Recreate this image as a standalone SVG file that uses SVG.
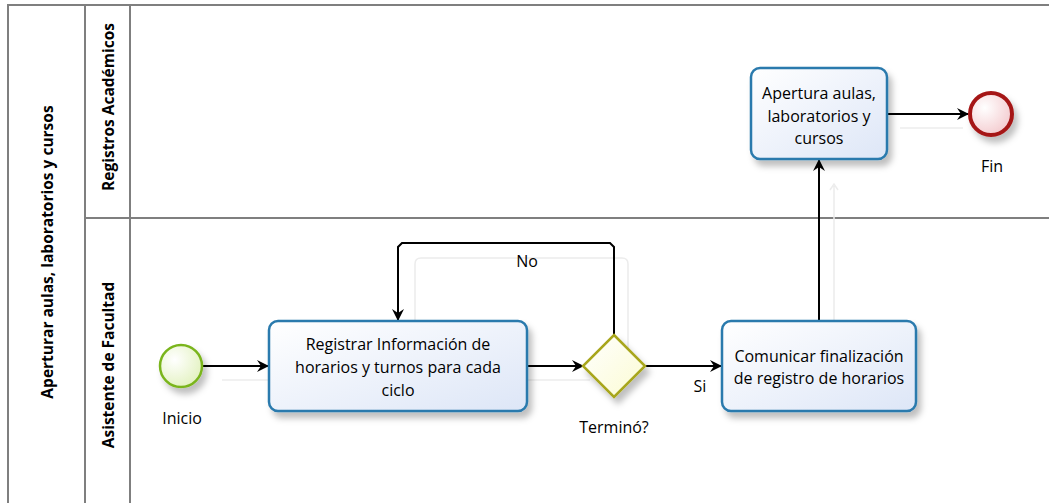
<svg xmlns="http://www.w3.org/2000/svg" width="1049" height="503" viewBox="0 0 1049 503">
<style>
.pool{stroke:#7f7f7f;stroke-width:2;fill:none}
.lbl{font-family:"Open Sans","DejaVu Sans",sans-serif;font-size:16px;fill:#000;text-anchor:middle}
.lane{font-family:"Open Sans","DejaVu Sans",sans-serif;font-size:15.5px;font-weight:bold;fill:#000;text-anchor:middle}
.task{fill:url(#gTask);stroke:#2a7aad;stroke-width:2.5}
.conn{stroke:#000;stroke-width:2;fill:none}
.ghost{stroke:#ececec;stroke-width:1.5;fill:none}
</style>
<defs>
<linearGradient id="gTask" x1="0" y1="0" x2="1" y2="1"><stop offset="0" stop-color="#ffffff"/><stop offset="1" stop-color="#dde6f7"/></linearGradient>
<radialGradient id="gStart" cx="0.35" cy="0.35" r="0.8"><stop offset="0" stop-color="#ffffff"/><stop offset="1" stop-color="#dff0b8"/></radialGradient>
<radialGradient id="gEnd" cx="0.35" cy="0.35" r="0.8"><stop offset="0" stop-color="#ffffff"/><stop offset="1" stop-color="#f2c4c8"/></radialGradient>
<linearGradient id="gGw" x1="0" y1="0" x2="1" y2="1"><stop offset="0" stop-color="#ffffff"/><stop offset="1" stop-color="#fbfbd2"/></linearGradient>
<filter id="sh" x="-20%" y="-20%" width="150%" height="160%"><feDropShadow dx="4" dy="6" stdDeviation="3" flood-color="#000" flood-opacity="0.25"/></filter>
<marker id="arr" markerWidth="12" markerHeight="12" refX="11" refY="6" orient="auto" markerUnits="userSpaceOnUse"><path d="M0,0 L12,6 L0,12 L4,6 Z" fill="#000"/></marker>
</defs>
<rect width="1049" height="503" fill="#fff"/>
<g id="pool">
<path class="pool" d="M8,503 V5 H1049"/>
<line class="pool" x1="85" y1="5" x2="85" y2="503"/>
<line class="pool" x1="130" y1="5" x2="130" y2="503"/>
<line class="pool" x1="85" y1="218" x2="1049" y2="218"/>
<text class="lane" transform="translate(53,252) rotate(-90)">Aperturar aulas, laboratorios y cursos</text>
<text class="lane" transform="translate(114,107) rotate(-90)">Registros Académicos</text>
<text class="lane" transform="translate(114,365) rotate(-90)">Asistente de Facultad</text>
</g>
<g id="ghosts">
<path class="ghost" d="M222,380 H590"/>
<path class="ghost" d="M415,340 V264 Q415,258 421,258 H622 Q628,258 628,264 V380"/>
<path class="ghost" d="M834,321 V186 M830,190 L834,184 L838,190"/>
<path class="ghost" d="M900,128 H963"/>
</g>
<g id="connectors">
<line class="conn" x1="203" y1="366" x2="268" y2="366" marker-end="url(#arr)"/>
<line class="conn" x1="527" y1="366" x2="583" y2="366" marker-end="url(#arr)"/>
<line class="conn" x1="645" y1="366" x2="721" y2="366" marker-end="url(#arr)"/>
<path class="conn" d="M614,335 V247 L610,243 H402 L398,247 V320" marker-end="url(#arr)"/>
<line class="conn" x1="819" y1="321" x2="819" y2="160" marker-end="url(#arr)"/>
<line class="conn" x1="887" y1="114" x2="968" y2="114" marker-end="url(#arr)"/>
<text class="lbl" x="527" y="267">No</text>
<text class="lbl" x="700" y="392">Si</text>
</g>
<g id="inicio">
<circle cx="181" cy="366" r="21" fill="url(#gStart)" stroke="#7ab51d" stroke-width="2.5" filter="url(#sh)"/>
<text class="lbl" x="182" y="424">Inicio</text>
</g>
<g id="registrar">
<rect class="task" x="269" y="321" width="258" height="90" rx="9" filter="url(#sh)"/>
<text class="lbl" x="398" y="350">Registrar Información de</text>
<text class="lbl" x="398" y="373">horarios y turnos para cada</text>
<text class="lbl" x="398" y="396">ciclo</text>
</g>
<g id="termino">
<path d="M614,335 L645,366 L614,397 L583,366 Z" fill="url(#gGw)" stroke="#a8a61e" stroke-width="2.5" filter="url(#sh)"/>
<text class="lbl" x="614" y="433">Terminó?</text>
</g>
<g id="comunicar">
<rect class="task" x="722" y="321" width="194" height="90" rx="9" filter="url(#sh)"/>
<text class="lbl" x="819" y="362">Comunicar finalización</text>
<text class="lbl" x="819" y="384">de registro de horarios</text>
</g>
<g id="apertura">
<rect class="task" x="751" y="68" width="136" height="91" rx="9" filter="url(#sh)"/>
<text class="lbl" x="819" y="99">Apertura aulas,</text>
<text class="lbl" x="819" y="122">laboratorios y</text>
<text class="lbl" x="819" y="144">cursos</text>
</g>
<g id="fin">
<circle cx="991" cy="114" r="21" fill="url(#gEnd)" stroke="#a51717" stroke-width="4" filter="url(#sh)"/>
<text class="lbl" x="992" y="172">Fin</text>
</g>
</svg>
